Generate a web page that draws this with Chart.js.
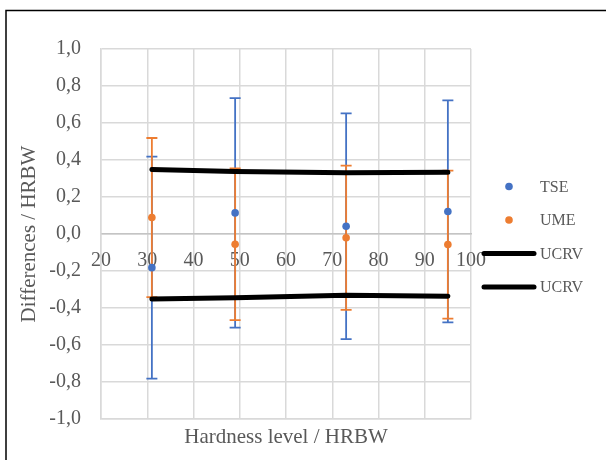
<!DOCTYPE html>
<html>
<head>
<meta charset="utf-8">
<script src="https://cdn.jsdelivr.net/npm/chart.js@4.4.0/dist/chart.umd.min.js"></script>
<style>
body { margin: 0; background: #fff; }
canvas { display: block; }
</style>
</head>
<body>
<canvas id="hardnessChart" width="606" height="460"></canvas>
<script>
// Hardness levels / HRBW
const hardness = [31, 49, 73, 95];
// TSE differences and error bar half-widths
const tse = [-0.182, 0.114, 0.042, 0.122];
const tseErr = [0.60, 0.62, 0.61, 0.60];
// UME differences and error bar half-widths
const ume = [0.089, -0.055, -0.020, -0.057];
const umeErr = [0.43, 0.41, 0.39, 0.40];
// UCRV limits
const ucrvUpper = [0.349, 0.338, 0.331, 0.334];
const ucrvLower = [-0.352, -0.345, -0.331, -0.336];

const xTicks = [20, 30, 40, 50, 60, 70, 80, 90, 100];

const pts = (ys) => ys.map((v, i) => ({x: hardness[i], y: v}));
const fmt = (v) => (Math.abs(v) < 1e-9 ? 0 : v).toFixed(1).replace('.', ',');

const serif = 'Liberation Serif';
const grey = '#595959';
const gridColor = '#d9d9d9';

// whiskers for TSE and UME
const errorBars = {
  id: 'errorBars',
  beforeDatasetsDraw(chart) {
    const {ctx, scales: {x, y}} = chart;
    [[tse, tseErr, '#4472C4'], [ume, umeErr, '#ED7D31']].forEach(([vals, errs, color]) => {
      ctx.save();
      ctx.strokeStyle = color;
      ctx.lineWidth = 1.8;
      vals.forEach((v, i) => {
        const px = x.getPixelForValue(hardness[i]);
        const top = y.getPixelForValue(v + errs[i]);
        const bot = y.getPixelForValue(v - errs[i]);
        ctx.beginPath();
        ctx.moveTo(px, top); ctx.lineTo(px, bot);
        ctx.moveTo(px - 5.5, top); ctx.lineTo(px + 5.5, top);
        ctx.moveTo(px - 5.5, bot); ctx.lineTo(px + 5.5, bot);
        ctx.stroke();
      });
      ctx.restore();
    });
  }
};

// legend on the right, Excel style
const sideLegend = {
  id: 'sideLegend',
  afterDraw(chart) {
    const {ctx, chartArea} = chart;
    const cx = chartArea.right + 38;
    const textX = chartArea.right + 69;
    ctx.save();
    ctx.font = '16px "' + serif + '"';
    ctx.textBaseline = 'middle';
    chart.data.datasets.forEach((ds, i) => {
      const yy = chartArea.top + 137.5 + i * 33.5;
      if (ds.pointRadius > 0) {
        ctx.fillStyle = ds.backgroundColor;
        ctx.beginPath();
        ctx.arc(cx, yy, 3.8, 0, Math.PI * 2);
        ctx.fill();
      } else {
        ctx.strokeStyle = ds.borderColor;
        ctx.lineWidth = ds.borderWidth;
        ctx.lineCap = 'round';
        ctx.beginPath();
        ctx.moveTo(cx - 25, yy);
        ctx.lineTo(cx + 25, yy);
        ctx.stroke();
      }
      ctx.fillStyle = grey;
      ctx.fillText(ds.label, textX, yy + 1);
    });
    ctx.restore();
  }
};

// outer frame (top and left edges visible)
const frame = {
  id: 'frame',
  afterDraw(chart) {
    const {ctx} = chart;
    ctx.save();
    ctx.strokeStyle = '#000';
    ctx.lineWidth = 1.5;
    ctx.beginPath();
    ctx.moveTo(6, 461);
    ctx.lineTo(6, 10.5);
    ctx.lineTo(607, 10.5);
    ctx.stroke();
    ctx.restore();
  }
};

new Chart(document.getElementById('hardnessChart'), {
  type: 'scatter',
  data: {
    datasets: [
      {
        label: 'TSE',
        data: pts(tse),
        backgroundColor: '#4472C4',
        borderColor: '#4472C4',
        pointRadius: 3.8,
        borderWidth: 0
      },
      {
        label: 'UME',
        data: pts(ume),
        backgroundColor: '#ED7D31',
        borderColor: '#ED7D31',
        pointRadius: 3.8,
        borderWidth: 0
      },
      {
        label: 'UCRV',
        data: pts(ucrvUpper),
        showLine: true,
        borderColor: '#000',
        backgroundColor: '#000',
        borderWidth: 5,
        borderCapStyle: 'round',
        pointRadius: 0
      },
      {
        label: 'UCRV',
        data: pts(ucrvLower),
        showLine: true,
        borderColor: '#000',
        backgroundColor: '#000',
        borderWidth: 5,
        borderCapStyle: 'round',
        pointRadius: 0
      }
    ]
  },
  options: {
    responsive: false,
    animation: false,
    layout: { padding: { left: 0, top: 49, right: 135, bottom: 0 } },
    plugins: {
      legend: { display: false },
      tooltip: { enabled: false }
    },
    scales: {
      x: {
        type: 'linear',
        position: 'bottom',
        min: 20,
        max: 100,
        afterBuildTicks: (s) => { s.ticks = xTicks.map(v => ({value: v})); },
        ticks: { display: false },
        grid: { color: gridColor, lineWidth: 1.5, drawTicks: false },
        border: { color: gridColor, width: 1.5 },
        title: {
          display: true,
          text: 'Hardness level / HRBW',
          color: grey,
          font: { family: serif, size: 21 },
          padding: { top: 4, bottom: 10 }
        },
        afterFit: (s) => { s.height = 41; }
      },
      x2: {
        type: 'linear',
        axis: 'x',
        position: { y: 0 },
        min: 20,
        max: 100,
        afterBuildTicks: (s) => { s.ticks = xTicks.map(v => ({value: v})); },
        ticks: { color: grey, font: { family: serif, size: 20 }, padding: 15, maxRotation: 0 },
        grid: { display: false, drawTicks: false },
        border: { color: '#c4c4c4', width: 1.5 }
      },
      y: {
        type: 'linear',
        min: -1,
        max: 1,
        ticks: {
          stepSize: 0.2,
          color: grey,
          font: { family: serif, size: 20 },
          padding: 20,
          callback: (v) => fmt(v)
        },
        grid: { color: gridColor, lineWidth: 1.5, drawTicks: false },
        border: { color: gridColor, width: 1.5 },
        title: {
          display: true,
          text: 'Differences / HRBW',
          color: grey,
          font: { family: serif, size: 21 },
          padding: { top: 17, bottom: 4 }
        },
        afterFit: (s) => { s.width = 101; }
      }
    }
  },
  plugins: [errorBars, sideLegend, frame]
});
</script>
</body>
</html>
